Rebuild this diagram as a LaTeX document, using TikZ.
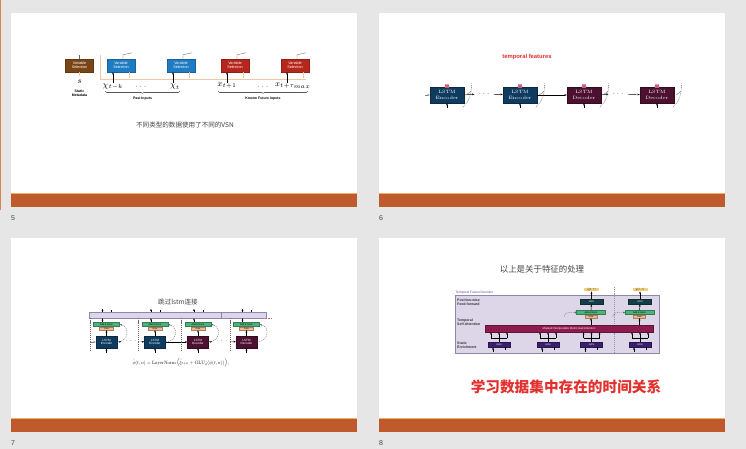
\documentclass[tikz,border=0pt]{standalone}
\usepackage{graphicx}
\usepackage{fontspec}
\setsansfont{Liberation Sans}
\newfontfamily\cjk{Noto Sans CJK SC}
\usetikzlibrary{arrows.meta,positioning,calc,decorations.pathreplacing}
\definecolor{sorter}{HTML}{E6E6E6}
\definecolor{bandorange}{HTML}{BF5A2C}
\definecolor{bandlight}{HTML}{F2B060}
\definecolor{pickline}{HTML}{D98550}
\definecolor{vsbrown}{HTML}{7A4516}
\definecolor{vsblue}{HTML}{1F7BC2}
\definecolor{vsred}{HTML}{B5261D}
\definecolor{peach}{HTML}{F0C6A4}
\definecolor{lstmnavy}{HTML}{0E3B5E}
\definecolor{lstmwine}{HTML}{4C1030}
\definecolor{pinkdot}{HTML}{C9607E}
\definecolor{addgreen}{HTML}{4DB37B}
\definecolor{gateorange}{HTML}{F3B88C}
\definecolor{lavender}{HTML}{DDD5E8}
\definecolor{lavline}{HTML}{9086AC}
\definecolor{mhawine}{HTML}{8E1B4E}
\definecolor{grnteal}{HTML}{143F48}
\definecolor{grnindigo}{HTML}{3A1F6E}
\definecolor{tagyellow}{HTML}{F5D27A}
\definecolor{titlered}{HTML}{E2302E}
\definecolor{txtgray}{HTML}{444444}
\newlength{\pxu}\setlength{\pxu}{0.03cm}
\tikzset{
  slidenum/.style={font=\fontsize{6}{7}\selectfont\sffamily, text=txtgray, inner sep=0pt},
  vsbox/.style={
    rectangle, draw=#1!80!black, fill=#1, text=white,
    minimum width=28\pxu, minimum height=13\pxu,
    font=\fontsize{3.2}{3.6}\selectfont\sffamily, align=center,
    inner sep=0pt
  },
  vsbox/.default=vsblue,
  lstmbox/.style={
    rectangle, draw=#1!70!black, fill=#1, text=white,
    minimum width=34\pxu, minimum height=16\pxu,
    font=\fontsize{4}{4.6}\selectfont, align=center,
    inner sep=0pt
  },
  lstmbox/.default=lstmnavy,
  minilstm/.style={lstmbox=#1, minimum width=21\pxu, minimum height=12\pxu,
    font=\fontsize{2.6}{3}\selectfont\sffamily},
  addnorm/.style={rectangle, draw=addgreen!70!black, fill=addgreen,
    minimum width=#1, minimum height=4\pxu, inner sep=0pt,
    font=\fontsize{2}{2}\selectfont\sffamily},
  gatebox/.style={rectangle, draw=gateorange!70!black, fill=gateorange,
    minimum width=#1, minimum height=3\pxu, inner sep=0pt,
    font=\fontsize{1.8}{2}\selectfont\sffamily},
  grnbox/.style={rectangle, draw=#1!70!black, fill=#1, text=white,
    minimum width=22\pxu, minimum height=5.5\pxu, inner sep=0pt,
    font=\fontsize{2}{2}\selectfont\sffamily},
  outtag/.style={rectangle, fill=tagyellow, minimum width=15\pxu, minimum height=2.6\pxu, inner sep=0pt},
  tinyarrow/.style={-{Stealth[length=2pt,width=1.6pt]}, line width=0.35pt, color=#1},
  tinyarrow/.default=black,
  skipdash/.style={dashed, dash pattern=on 1pt off 0.8pt, line width=0.3pt, color=black!60},
  smallbold/.style={font=\fontsize{3}{3.4}\selectfont\sffamily\bfseries, align=center, inner sep=0pt},
}

\begin{document}
\begin{tikzpicture}[x=0.03cm, y=-0.03cm]
  \fill[sorter] (0,0) rectangle (746,449);
  \useasboundingbox (0,0) rectangle (746,449);

  % slide thumbnails
  \fill[white] (11,13) rectangle (357,193);
  \fill[white] (379,13) rectangle (725,193);
  \fill[white] (11,238) rectangle (357,418);
  \fill[white] (379,238) rectangle (725,418);
  \fill[bandorange] (11,193) rectangle (357,207);
  \fill[bandorange] (379,193) rectangle (725,207);
  \fill[bandorange] (11,418) rectangle (357,432);
  \fill[bandorange] (379,418) rectangle (725,432);
  \fill[bandlight] (11,192.5) rectangle (357,194);
  \fill[bandlight] (379,192.5) rectangle (725,194);
  \fill[bandlight] (11,417.5) rectangle (357,419);
  \fill[bandlight] (379,417.5) rectangle (725,419);
  \draw[pickline, line width=1.2\pxu] (0.8,0) -- (0.8,210);
  \node[slidenum, anchor=west] (n5) at (11,218) {5};
  \node[slidenum, anchor=west] (n6) at (379,218) {6};
  \node[slidenum, anchor=west] (n7) at (11,443) {7};
  \node[slidenum, anchor=west] (n8) at (379,443) {8};

  % slide 5: variable selection networks
  \draw[peach, line width=1\pxu] (100,55) -- (100,79) -- (306,79);
  \node[vsbox=vsbrown] (vs0) at (79.5,65.5) {Variable\\Selection};
  \node[vsbox=vsblue] (vs1) at (121,65.5) {Variable\\Selection};
  \node[vsbox=vsblue] (vs2) at (181,65.5) {Variable\\Selection};
  \node[vsbox=vsred] (vs3) at (235,65.5) {Variable\\Selection};
  \node[vsbox=vsred] (vs4) at (295,65.5) {Variable\\Selection};
  \draw[line width=0.3pt, black!60] (vs0.north) -- ++(0,-4);
  \draw[peach, line width=0.8\pxu] (vs0.south) -- ++(0,4);
  \foreach \v in {vs1,vs2,vs3,vs4}{
    \draw[tinyarrow] ([xshift=-8\pxu,yshift=-11\pxu]\v.south) -- ([xshift=-8\pxu]\v.south);
    \draw[peach, line width=0.8\pxu] ([xshift=8\pxu]\v.south) -- ++(0,6);
    \draw[line width=0.3pt, black!60] ([xshift=2\pxu]\v.north) -- ++(0,-4) -- ++(9,-2);
  }
  \node[font=\fontsize{7}{8}\selectfont] (s) at (79.5,82) {$s$};
  \node[smallbold, below=1.5\pxu of s] (stat) {Static\\Metadata};
  \node[font=\fontsize{7}{8}\selectfont] (xk) at (113,87) {$\chi_{t-k}$};
  \node[font=\fontsize{6}{7}\selectfont] (dp) at (141,87) {$\cdots$};
  \node[font=\fontsize{7}{8}\selectfont] (xt) at (175,87) {$\chi_t$};
  \node[font=\fontsize{7}{8}\selectfont] (xf) at (227,86) {$x_{t+1}$};
  \node[font=\fontsize{6}{7}\selectfont] (df) at (263,87) {$\cdots$};
  \node[font=\fontsize{7}{8}\selectfont] (xm) at (293,86) {$x_{t+\tau_{max}}$};
  \draw[decorate, decoration={brace, mirror, amplitude=1.5pt}, line width=0.3pt]
    (105,91.5) -- (180,91.5);
  \draw[decorate, decoration={brace, mirror, amplitude=1.5pt}, line width=0.3pt]
    (218,91.5) -- (308,91.5);
  \node[smallbold] (past) at (142.5,98.5) {Past Inputs};
  \node[smallbold] (known) at (263,98.5) {Known Future Inputs};
  \node[font=\fontsize{5.6}{6}\selectfont\cjk, text=txtgray] (t5) at (185,125) {不同类型的数据使用了不同的VSN};

  % slide 6: lstm encoder-decoder
  \node[font=\fontsize{5}{6}\selectfont\sffamily\bfseries, text=titlered] (t6) at (527,57) {temporal features};
  \node[lstmbox=lstmnavy] (enc1) at (447,95) {LSTM\\Encoder};
  \node[lstmbox=lstmnavy] (enc2) at (520,95) {LSTM\\Encoder};
  \node[lstmbox=lstmwine] (dec1) at (584,95) {LSTM\\Decoder};
  \node[lstmbox=lstmwine] (dec2) at (657,95) {LSTM\\Decoder};
  \coordinate (in6) at (425,95);
  \draw[tinyarrow=black!50] (in6) -- (enc1);
  \node[font=\fontsize{6}{6}\selectfont] (d6a) at (484,94) {$\cdots$};
  \node[font=\fontsize{6}{6}\selectfont] (d6b) at (618,94) {$\cdots$};
  \draw[tinyarrow] (enc1) -- (d6a);
  \draw[tinyarrow] (d6a) -- (enc2);
  \draw[tinyarrow] (enc2) -- (dec1);
  \draw[tinyarrow] (dec1) -- (d6b);
  \draw[tinyarrow] (d6b) -- (dec2);
  \foreach \b in {enc1,enc2,dec1,dec2}{
    \fill[pinkdot, rounded corners=0.4pt] ([xshift=-2.2\pxu,yshift=2.4\pxu]\b.north) rectangle ([xshift=2.2\pxu,yshift=-1.2\pxu]\b.north);
    \draw[tinyarrow] ([yshift=-5\pxu]\b.south) -- (\b.south);
    \draw[skipdash] ([xshift=7\pxu,yshift=12\pxu]\b.east) to[bend left=25] ([xshift=-2\pxu,yshift=-13\pxu]\b.east);
    \draw[line width=0.3pt, black!60] ([xshift=2\pxu]\b.east) -- ++(5,-4);
  }

  % slide 7: skip connection over the lstm
  \node[font=\fontsize{5.6}{6}\selectfont\cjk, text=txtgray] (t7) at (178,302) {跳过lstm连接};
  \node[rectangle, draw=lavline, fill=lavender, minimum width=177\pxu, minimum height=6\pxu, inner sep=0pt] (bar7) at (177.5,315) {};
  \draw[lavline, line width=0.3pt] (221,312) -- (221,318);
  \draw[pinkdot, densely dotted, line width=0.3pt] (bar7.south east) -- ++(5,0);
  \node[addnorm=26\pxu] (an1) at (106.5,324.5) {Add \& Norm};
  \node[addnorm=26\pxu] (an2) at (155,324.5) {Add \& Norm};
  \node[addnorm=26\pxu] (an3) at (198,324.5) {Add \& Norm};
  \node[addnorm=26\pxu] (an4) at (246.5,324.5) {Add \& Norm};
  \node[gatebox=14\pxu, below=0pt of an1] (g1) {Gate};
  \node[gatebox=14\pxu, below=0pt of an2] (g2) {Gate};
  \node[gatebox=14\pxu, below=0pt of an3] (g3) {Gate};
  \node[gatebox=14\pxu, below=0pt of an4] (g4) {Gate};
  \node[minilstm=lstmnavy] (l1) at (106.5,342) {LSTM\\Encoder};
  \node[minilstm=lstmnavy] (l2) at (155,342) {LSTM\\Encoder};
  \node[minilstm=lstmwine] (l3) at (198,342) {LSTM\\Decoder};
  \node[minilstm=lstmwine] (l4) at (246.5,342) {LSTM\\Decoder};
  \coordinate (in7) at (90,342);
  \node[font=\fontsize{4}{4}\selectfont] (d7a) at (131,341.5) {$\cdots$};
  \node[font=\fontsize{4}{4}\selectfont] (d7b) at (222,341.5) {$\cdots$};
  \draw[tinyarrow=black!50] (in7) -- (l1);
  \draw[tinyarrow] (l1) -- (d7a);
  \draw[tinyarrow] (d7a) -- (l2);
  \draw[tinyarrow] (l2) -- (l3);
  \draw[tinyarrow] (l3) -- (d7b);
  \draw[tinyarrow] (d7b) -- (l4);
  \foreach \i in {1,2,3,4}{
    \draw[tinyarrow] (l\i.north) -- (g\i.south);
    \draw[tinyarrow] ([xshift=-4\pxu]an\i.north) -- ([xshift=-4\pxu]an\i.north |- bar7.south);
    \draw[tinyarrow] ([xshift=-4\pxu]an\i.north |- bar7.north) -- ++(0,-3);
    \draw[line width=0.3pt] ([xshift=5\pxu]an\i.north |- bar7.north) -- ++(0,-2);
    \draw[tinyarrow] ([yshift=-5\pxu]l\i.south) -- (l\i.south);
    \draw[skipdash] ([xshift=-3.5\pxu]an\i.west |- bar7.south) -- ++(0,33);
    \draw[skipdash, -{Stealth[length=2pt,width=1.6pt]}] (l\i.east) to[out=0, in=-10, looseness=1.6] (an\i.east);
  }
  \node[inner sep=0pt] (f7) at (181,363)
    {\resizebox{97\pxu}{!}{$\tilde{\phi}(t,n) = \mathrm{LayerNorm}\left(\tilde{\xi}_{t+n} + \mathrm{GLU}_{\tilde{\phi}}(\phi(t,n))\right),$}};

  % slide 8: temporal fusion decoder
  \node[font=\fontsize{7.2}{8}\selectfont\cjk, text=txtgray] (t8) at (542,269) {以上是关于特征的处理};
  \node[rectangle, draw=lavline, fill=lavender, minimum width=204\pxu, minimum height=58\pxu, inner sep=0pt] (panel) at (557,324) {};
  \node[font=\fontsize{2.8}{3}\selectfont\sffamily, text=grnindigo!80, anchor=south west, inner sep=0.5pt] (tfd) at (panel.north west) {Temporal Fusion Decoder};
  \draw[skipdash, black!40] (614,287) -- (614,353);
  \node[smallbold, anchor=west, align=left, text=black!80] (pff) at (457,302.5) {Position-wise\\Feed-forward};
  \node[smallbold, anchor=west, align=left, text=black!80] (tsa) at (457,322.5) {Temporal\\Self-Attention};
  \node[smallbold, anchor=west, align=left, text=black!80] (sen) at (457,345.5) {Static\\Enrichment};
  \node[rectangle, fill=mhawine, draw=mhawine!70!black, text=white, minimum width=168\pxu, minimum height=7\pxu, inner sep=0pt,
    font=\fontsize{2.4}{2.6}\selectfont\sffamily] (mha) at (569,328.5) {Masked Interpretable Multi-Head Attention};
  \node[grnbox=grnteal, minimum width=23\pxu] (ff1) at (591.5,301.5) {GRN};
  \node[grnbox=grnteal, minimum width=23\pxu] (ff2) at (640,301.5) {GRN};
  \node[outtag] (o1) at (591.5,289.5) {\resizebox{9\pxu}{!}{$\hat{y}(t,\tau)$}};
  \node[outtag] (o2) at (640,289.5) {\resizebox{9\pxu}{!}{$\hat{y}(t,\tau)$}};
  \draw[tinyarrow] (ff1) -- (o1);
  \draw[tinyarrow] (ff2) -- (o2);
  \node[addnorm=29\pxu] (a81) at (591,312.5) {Add \& Norm};
  \node[addnorm=29\pxu] (a82) at (639.5,312.5) {Add \& Norm};
  \node[gatebox=12\pxu, below=0pt of a81] (g81) {Gate};
  \node[gatebox=12\pxu, below=0pt of a82] (g82) {Gate};
  \draw[tinyarrow] (a81) -- (ff1);
  \draw[tinyarrow] (a82) -- (ff2);
  \draw[tinyarrow] (mha.north -| g81) -- (g81);
  \draw[tinyarrow] (mha.north -| g82) -- (g82);
  \draw[skipdash, -{Circle[length=1.5pt]}] ([xshift=-12\pxu,yshift=-4\pxu]a81.west) to[out=90, in=180] (a81.west);
  \draw[skipdash, -{Circle[length=1.5pt]}] ([xshift=-12\pxu,yshift=-4\pxu]a82.west) to[out=90, in=180] (a82.west);
  \node[grnbox=grnindigo] (se1) at (499,344.5) {GRN};
  \node[grnbox=grnindigo] (se2) at (548,344.5) {GRN};
  \node[grnbox=grnindigo] (se3) at (591.5,344.5) {GRN};
  \node[grnbox=grnindigo] (se4) at (640,344.5) {GRN};
  \foreach \k in {se1,se2,se3,se4}{
    \draw[line width=0.3pt] (\k.north) -- ++(0,-3.5);
    \draw[line width=0.3pt] ([xshift=-8\pxu,yshift=3.5\pxu]\k.north) -- ++(16,0);
    \draw[tinyarrow] ([xshift=-8\pxu,yshift=3.5\pxu]\k.north) -- ([xshift=-8\pxu]\k.north |- mha.south);
    \draw[tinyarrow] ([yshift=3.5\pxu]\k.north) -- (\k.north |- mha.south);
    \draw[tinyarrow] ([xshift=8\pxu,yshift=3.5\pxu]\k.north) -- ([xshift=8\pxu]\k.north |- mha.south);
    \draw[tinyarrow] ([xshift=-6\pxu,yshift=-5\pxu]\k.south) -- ([xshift=-6\pxu]\k.south);
    \draw[line width=0.3pt] ([xshift=6\pxu]\k.south) -- ++(0,3);
  }
  \node[font=\fontsize{12.5}{14}\selectfont\cjk\bfseries, text=titlered] (t8b) at (566,387) {学习数据集中存在的时间关系};
\end{tikzpicture}
\end{document}
